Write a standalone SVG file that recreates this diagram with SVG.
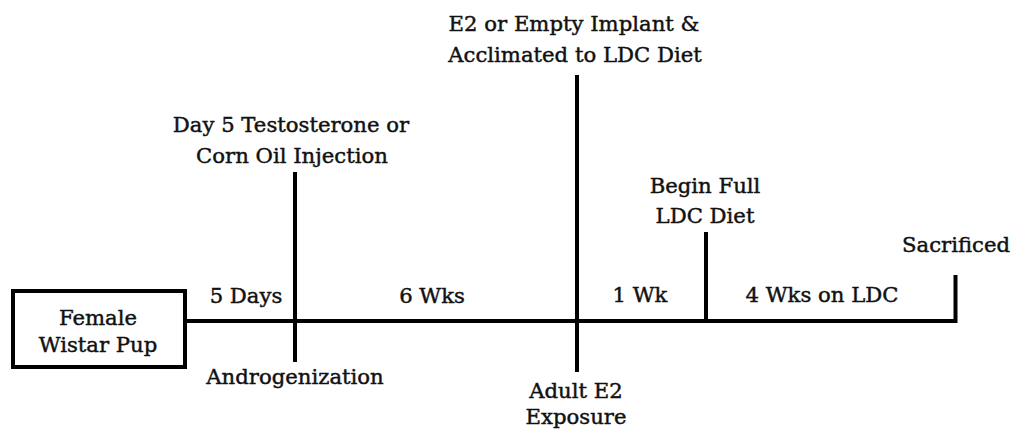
<svg xmlns="http://www.w3.org/2000/svg" width="1011" height="432" viewBox="0 0 1011 432">
<style>
.t{font-family:"DejaVu Serif","Liberation Serif",serif;font-size:21.2px;fill:#111;stroke:#111;stroke-width:0.45;text-anchor:middle}
.ln{stroke:#000;stroke-width:4;fill:none}
</style>
<rect width="1011" height="432" fill="#fff"/>
<g id="connectors">
<line class="ln" x1="186" y1="321" x2="957" y2="321"/>
<line class="ln" x1="295" y1="172" x2="295" y2="362"/>
<line class="ln" x1="577" y1="75" x2="577" y2="372"/>
<line class="ln" x1="706" y1="232" x2="706" y2="321"/>
<line class="ln" x1="955.5" y1="275" x2="955.5" y2="323"/>
</g>
<g id="pup">
<rect class="ln" x="13" y="291" width="172" height="76"/>
<text class="t" x="98" y="325">Female</text>
<text class="t" x="98" y="352">Wistar Pup</text>
</g>
<g id="day5">
<text class="t" x="291" y="132">Day 5 Testosterone or</text>
<text class="t" x="292" y="163">Corn Oil Injection</text>
<text class="t" x="295" y="384">Androgenization</text>
</g>
<g id="e2">
<text class="t" x="574" y="31">E2 or Empty Implant &amp;</text>
<text class="t" x="575" y="62">Acclimated to LDC Diet</text>
<text class="t" x="576" y="398">Adult E2</text>
<text class="t" x="576" y="424">Exposure</text>
</g>
<g id="full">
<text class="t" x="705" y="193">Begin Full</text>
<text class="t" x="705" y="223">LDC Diet</text>
</g>
<g id="sacrificed">
<text class="t" x="956" y="252">Sacrificed</text>
</g>
<g id="periods">
<text class="t" x="246" y="303">5 Days</text>
<text class="t" x="432" y="303">6 Wks</text>
<text class="t" x="640" y="302">1 Wk</text>
<text class="t" x="822" y="302">4 Wks on LDC</text>
</g>
</svg>
